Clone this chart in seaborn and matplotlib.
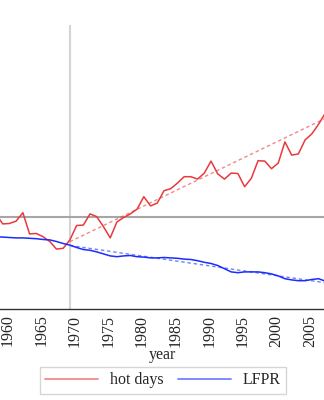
import numpy as np
import pandas as pd
import seaborn as sns
import matplotlib
matplotlib.use("Agg")
import matplotlib.pyplot as plt
from matplotlib.lines import Line2D
from matplotlib.transforms import ScaledTranslation

# Annual series (standardised units, 0 = reference level)
years = list(range(1959, 2009))
hot_days = [0.07, -0.18, -0.17, -0.11, 0.10, -0.43, -0.42, -0.50, -0.62, -0.81,
            -0.79, -0.58, -0.22, -0.21, 0.07, 0.00, -0.25, -0.53, -0.13, -0.02,
            0.07, 0.19, 0.50, 0.27, 0.34, 0.65, 0.70, 0.84, 1.00, 1.00,
            0.94, 1.09, 1.39, 1.07, 0.94, 1.09, 1.08, 0.75, 0.96, 1.40,
            1.39, 1.20, 1.34, 1.87, 1.54, 1.57, 1.92, 2.07, 2.31, 2.59]
lfpr = [-0.50, -0.51, -0.52, -0.53, -0.53, -0.54, -0.55, -0.57, -0.58, -0.62,
        -0.67, -0.71, -0.77, -0.82, -0.84, -0.88, -0.93, -0.98, -1.00, -0.98,
        -0.97, -1.00, -1.01, -1.03, -1.03, -1.02, -1.03, -1.04, -1.06, -1.07,
        -1.10, -1.14, -1.17, -1.22, -1.30, -1.38, -1.40, -1.38, -1.38, -1.38,
        -1.40, -1.43, -1.48, -1.55, -1.58, -1.60, -1.60, -1.57, -1.55, -1.61]
tick_years = list(range(1960, 2010, 5))
break_year = 1970
series_labels = ["hot days", "LFPR"]

# Post-1970 linear trends: value at the break year and slope per year
hot_trend_start, hot_trend_slope = -0.625, 0.0811
lfpr_trend_start, lfpr_trend_slope = -0.72, -0.0245
trend_years = [1970, 2008]

df = pd.DataFrame({"year": years, "hot days": hot_days, "LFPR": lfpr})
trend = pd.DataFrame({"year": trend_years})
trend["hot days"] = hot_trend_start + hot_trend_slope * (trend["year"] - break_year)
trend["LFPR"] = lfpr_trend_start + lfpr_trend_slope * (trend["year"] - break_year)

sns.set_theme(style="white")
plt.rcParams["font.family"] = ["Liberation Serif", "DejaVu Serif"]

red = "#e8393c"
blue = "#1a2cff"

fig = plt.figure(figsize=(3.24, 4.0), dpi=100)
x0 = 1960 - 2.7 / 6.72
x1 = x0 + 324 / 6.72
ax = fig.add_axes([0.0, 0.2275, 1.0, 0.71])

ax.axvline(break_year, color="#d4d4d4", lw=1.5, zorder=1)
ax.axhline(0, color="#a6a6a6", lw=1.5, zorder=1)

sns.lineplot(data=df, x="year", y="hot days", ax=ax, color=red, lw=1.1, zorder=3)
sns.lineplot(data=df, x="year", y="LFPR", ax=ax, color=blue, lw=1.1, zorder=3)
sns.lineplot(data=trend, x="year", y="hot days", ax=ax, color=red, lw=1.0,
             ls=(0, (2.5, 2)), alpha=0.6, zorder=2)
sns.lineplot(data=trend, x="year", y="LFPR", ax=ax, color=blue, lw=1.0,
             ls=(0, (2.5, 2)), alpha=0.6, zorder=2)

ax.set_xlim(x0, x1)
ax.set_ylim(-(309 - 216.7) / 40, (216.7 - 25) / 40)
ax.set_xticks(tick_years)
ax.set_xticklabels([str(y) for y in tick_years], rotation=90, fontsize=11.5)
ax.set_yticks([])
ax.set_xlabel("year", fontsize=11.5, labelpad=0)
ax.set_ylabel("")
ax.tick_params(axis="x", direction="out", length=3, width=0.8, color="#555555", pad=1)
for side in ("left", "right", "top"):
    ax.spines[side].set_visible(False)
ax.spines["bottom"].set_color("#333333")
ax.spines["bottom"].set_linewidth(1.0)

# nudge the rotated year labels a few pixels to the right of their ticks
shift = ScaledTranslation(5 / 100, 0, fig.dpi_scale_trans)
for tick in ax.xaxis.get_major_ticks():
    tick.label1.set_transform(tick.label1.get_transform() + shift)

handles = [Line2D([], [], color=red, lw=1.3, alpha=0.6),
           Line2D([], [], color=blue, lw=1.3, alpha=0.6)]
leg = fig.legend(handles, series_labels, loc="center", bbox_to_anchor=(0.503, 0.049),
                 ncol=2, fontsize=11.5, frameon=True, fancybox=False,
                 handlelength=3.3, columnspacing=0.9, borderpad=0.35,
                 handletextpad=0.75, borderaxespad=0)
leg.get_frame().set_edgecolor("#cccccc")
leg.get_frame().set_linewidth(1.0)

fig.savefig("out.png", dpi=100)
